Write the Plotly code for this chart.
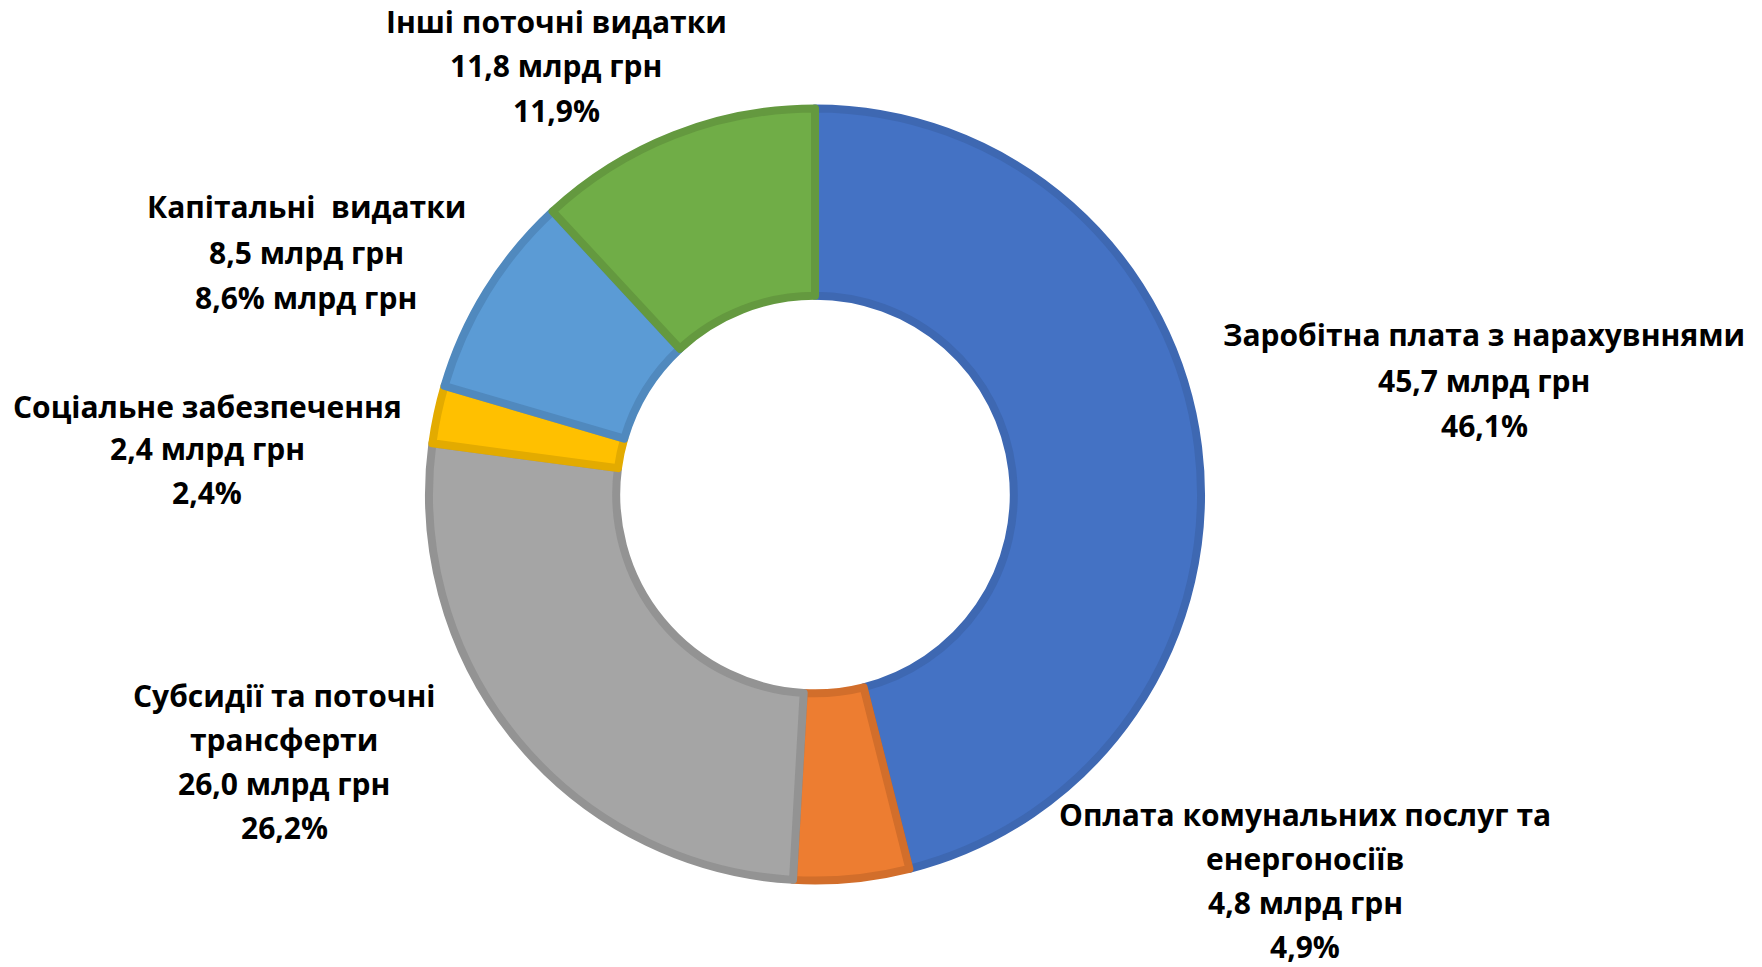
import plotly.graph_objects as go

categories = [
    "Заробітна плата з нарахувннями",
    "Оплата комунальних послуг та енергоносіїв",
    "Субсидії та поточні трансферти",
    "Соціальне забезпечення",
    "Капітальні  видатки",
    "Інші поточні видатки",
]
values_bn = [45.7, 4.8, 26.0, 2.4, 8.5, 11.8]
shares_pct = [46.1, 4.9, 26.2, 2.4, 8.6, 11.9]

# label texts (line by line, as written in the original)
label_lines = [
    ["Заробітна плата з нарахувннями", "45,7 млрд грн", "46,1%"],
    ["Оплата комунальних послуг та", "енергоносіїв", "4,8 млрд грн", "4,9%"],
    ["Субсидії та поточні", "трансферти", "26,0 млрд грн", "26,2%"],
    ["Соціальне забезпечення", "2,4 млрд грн", "2,4%"],
    ["Капітальні  видатки", "8,5 млрд грн", "8,6% млрд грн"],
    ["Інші поточні видатки", "11,8 млрд грн", "11,9%"],
]

fill_colors = ["#4472C4", "#ED7D31", "#A5A5A5", "#FFC000", "#5B9BD5", "#70AD47"]
line_colors = ["#3E68B2", "#D26E2B", "#939393", "#E3AB00", "#5089BE", "#64993F"]

# layout: label block positions in pixels (x centre, first-line y centre, line step)
W, H = 1762, 967
label_pos = [
    (1484, 334, 46),
    (1305, 814, 44),
    (284, 695, 44),
    (207, 406, 43),
    (306, 206, 46),
    (556, 21, 44.5),
]

fig = go.Figure()
cx, cy, r = 815, 494.5, 386
fig.add_trace(go.Pie(
    labels=categories,
    values=values_bn,
    sort=False,
    direction="clockwise",
    rotation=0,
    hole=0.515,
    textinfo="none",
    hoverinfo="label+value",
    marker=dict(colors=fill_colors, line=dict(color=line_colors, width=8)),
    domain=dict(x=[(cx - r) / W, (cx + r) / W],
                y=[(H - cy - r) / H, (H - cy + r) / H]),
    showlegend=False,
))

annotations = []
for lines, (px, py, step) in zip(label_lines, label_pos):
    for i, t in enumerate(lines):
        annotations.append(dict(
            text=t, x=px / W, y=1 - (py + i * step) / H,
            xref="paper", yref="paper", xanchor="center", yanchor="middle",
            showarrow=False,
            font=dict(family="Open Sans", size=30, color="#000000", weight="bold"),
        ))

fig.update_layout(
    width=W, height=H,
    margin=dict(l=0, r=0, t=0, b=0),
    paper_bgcolor="white", plot_bgcolor="white",
    annotations=annotations,
)

fig.write_html(
    "out.html",
    config={"displayModeBar": False},
    post_script="document.body.style.margin='0';document.body.style.padding='0';",
)
